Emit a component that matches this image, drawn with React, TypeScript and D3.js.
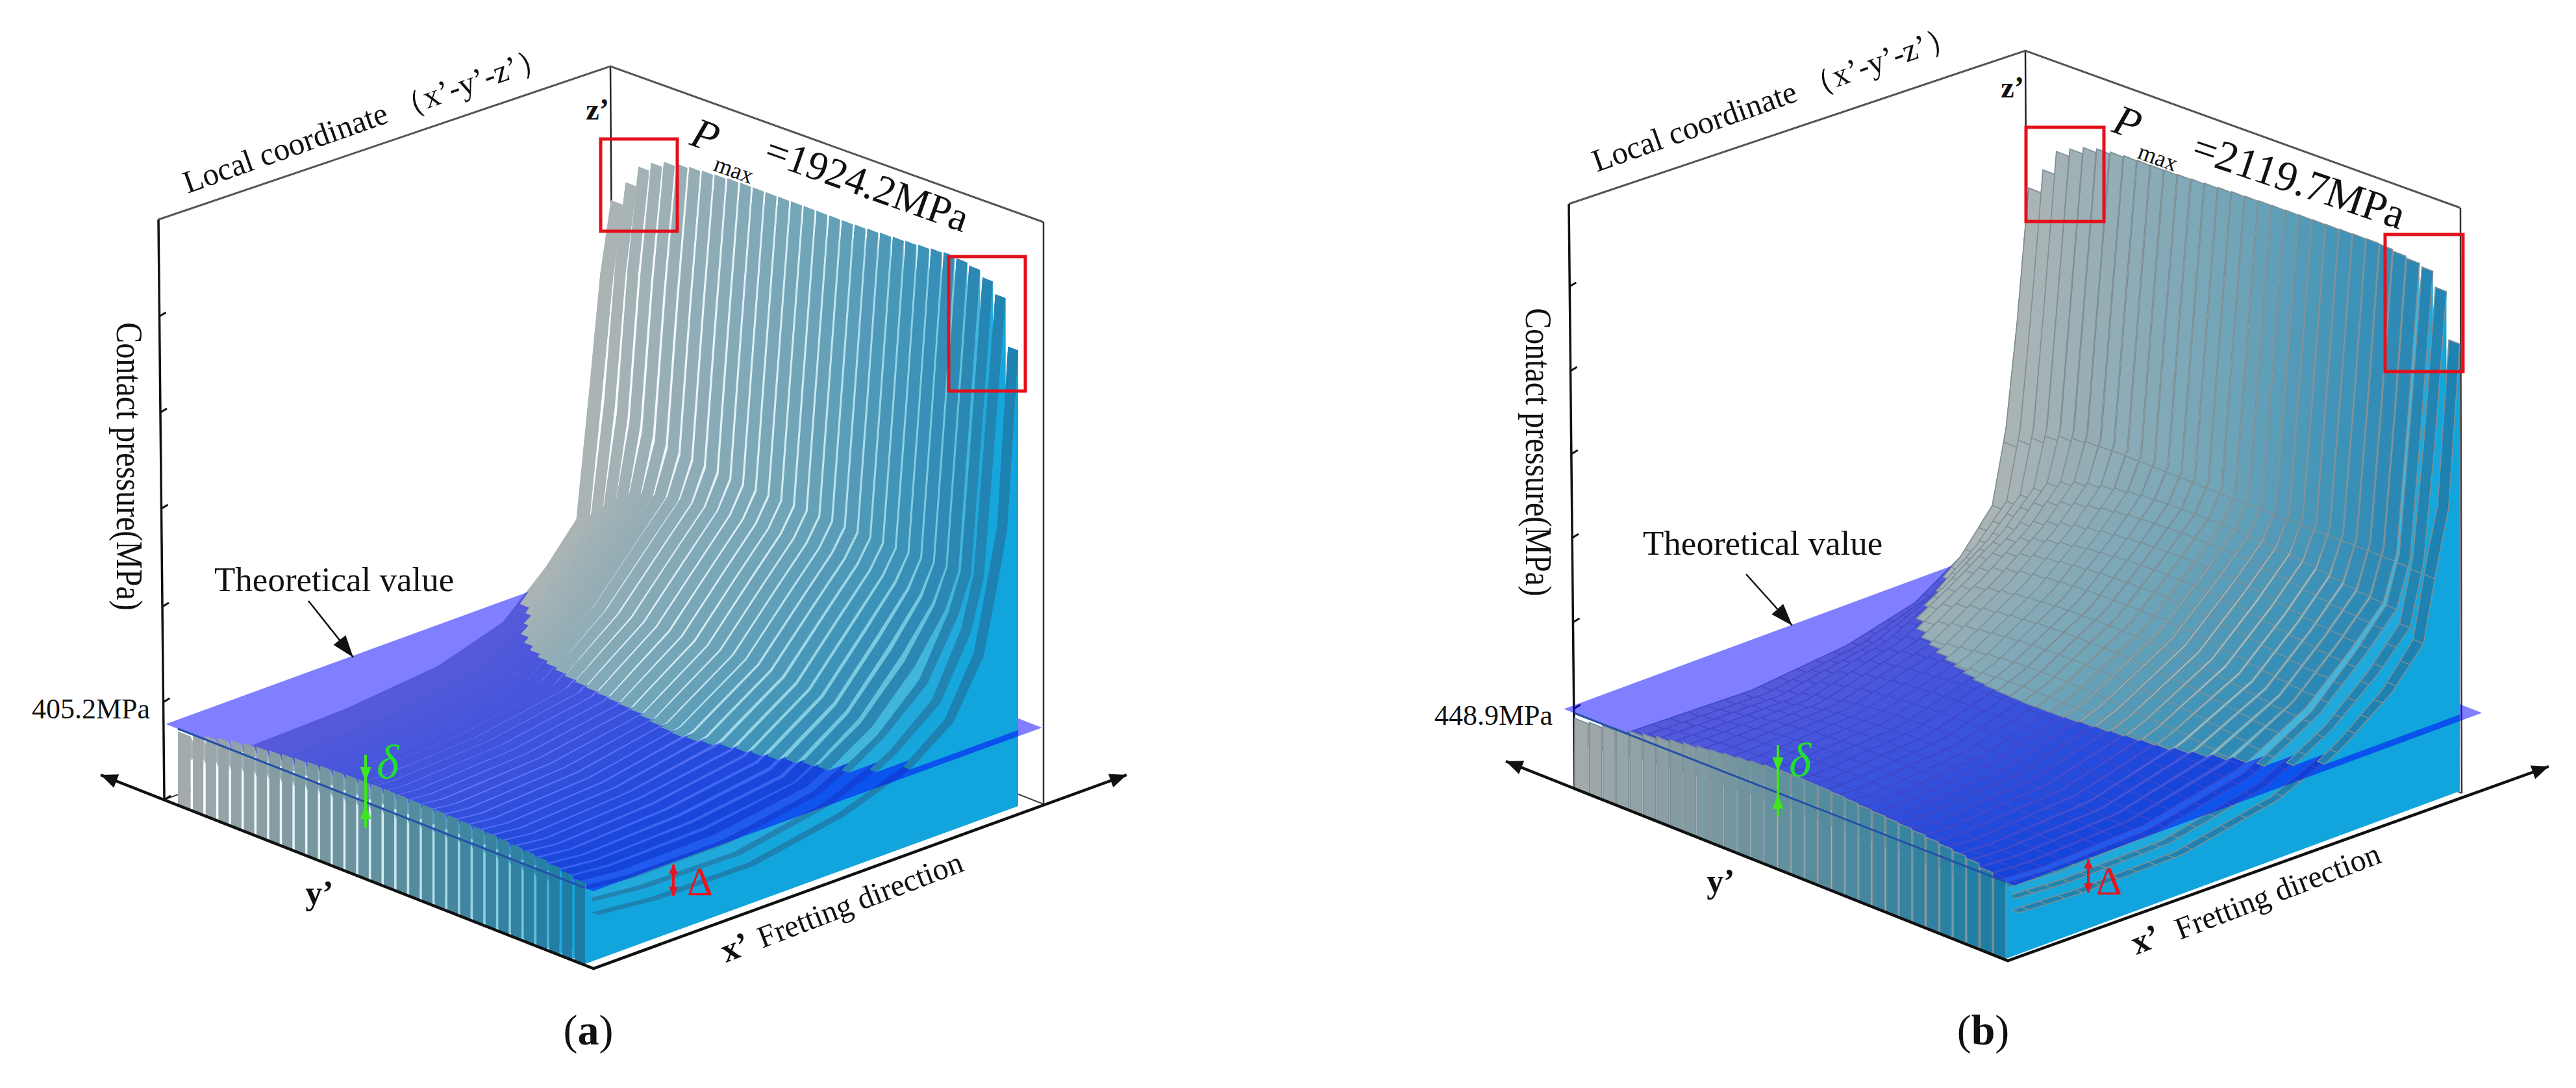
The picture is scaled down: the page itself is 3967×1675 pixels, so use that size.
import React from 'react';
import * as d3 from 'd3';

type Pt = [number, number];

const N_STRIPS = 32;
// stations along the fretting direction (0 = front wall, 1 = back edge)
const stations = [0, 0.03, 0.17, 0.39, 0.6, 0.75, 0.85, 0.92, 0.95, 0.975, 1];

// contact pressure in MPa, one row per strip
const pressureA = [
  [391, 215, 173, 187, 235, 343, 500, 623, 1049, 1423, 1660],
  [405, 225, 185, 200, 250, 375, 540, 660, 1020, 1460, 1740],
  [418, 235, 197, 214, 272, 420, 590, 705, 1000, 1480, 1810],
  [428, 245, 210, 228, 295, 462, 635, 750, 990, 1470, 1840],
  [437, 255, 222, 242, 315, 490, 660, 780, 975, 1460, 1860],
  [445, 265, 234, 256, 332, 512, 680, 800, 960, 1450, 1870],
  [449, 275, 245, 268, 345, 528, 695, 812, 950, 1440, 1876],
  [453, 283, 255, 278, 357, 538, 705, 820, 945, 1435, 1880],
  [457, 290, 263, 286, 368, 545, 712, 828, 940, 1430, 1884],
  [461, 297, 270, 294, 378, 548, 716, 832, 935, 1425, 1888],
  [465, 303, 275, 300, 385, 551, 720, 836, 930, 1420, 1890],
  [468, 308, 280, 306, 390, 553, 722, 840, 928, 1418, 1891],
  [470, 313, 284, 311, 394, 555, 724, 842, 926, 1416, 1892],
  [472, 318, 287, 315, 398, 555, 726, 843, 924, 1414, 1893],
  [473, 323, 289, 318, 402, 556, 727, 844, 923, 1412, 1894],
  [474, 330, 290, 320, 405, 556, 728, 845, 923, 1412, 1895],
  [474, 330, 291, 322, 408, 557, 728, 845, 922, 1410, 1896],
  [474, 330, 292, 323, 411, 558, 729, 846, 922, 1410, 1897],
  [473, 330, 292, 324, 413, 559, 729, 846, 921, 1408, 1898],
  [472, 330, 292, 324, 415, 560, 729, 846, 920, 1406, 1900],
  [471, 330, 292, 324, 413, 558, 728, 845, 918, 1404, 1903],
  [470, 330, 291, 323, 410, 555, 726, 843, 916, 1402, 1906],
  [468, 330, 290, 322, 404, 550, 722, 840, 915, 1400, 1909],
  [466, 328, 289, 320, 398, 545, 718, 838, 914, 1400, 1912],
  [463, 326, 287, 316, 392, 540, 712, 835, 914, 1402, 1916],
  [460, 322, 285, 310, 384, 532, 704, 830, 915, 1406, 1920],
  [456, 318, 283, 302, 372, 522, 692, 824, 916, 1410, 1924],
  [452, 312, 280, 295, 360, 512, 676, 815, 918, 1412, 1920],
  [447, 310, 275, 285, 360, 498, 652, 805, 920, 1410, 1912],
  [440, 300, 262, 262, 345, 480, 610, 800, 925, 1400, 1890],
  [432, 270, 235, 228, 320, 445, 560, 760, 930, 1380, 1850],
  [423, 235, 200, 195, 284, 405, 510, 697, 906, 1100, 1690],
];

const pressureB = [
  [418, 228, 217, 201, 258, 361, 503, 652, 923, 1319, 1810],
  [428, 240, 228, 215, 300, 430, 560, 690, 950, 1400, 1900],
  [440, 252, 240, 232, 340, 490, 610, 735, 975, 1470, 1990],
  [452, 262, 250, 250, 385, 540, 655, 780, 1000, 1510, 2020],
  [462, 272, 260, 268, 415, 570, 690, 820, 1015, 1530, 2045],
  [472, 280, 268, 284, 435, 590, 715, 845, 1025, 1545, 2060],
  [482, 288, 274, 298, 448, 605, 735, 865, 1030, 1555, 2068],
  [490, 294, 279, 310, 458, 615, 750, 880, 1030, 1560, 2074],
  [498, 300, 284, 320, 465, 622, 762, 892, 1030, 1562, 2076],
  [506, 305, 288, 327, 472, 628, 772, 902, 1028, 1564, 2078],
  [512, 310, 291, 333, 478, 632, 780, 910, 1026, 1565, 2080],
  [518, 314, 293, 337, 484, 635, 786, 915, 1025, 1566, 2083],
  [524, 317, 295, 340, 487, 637, 792, 918, 1024, 1566, 2086],
  [529, 320, 296, 341, 489, 638, 796, 920, 1023, 1566, 2090],
  [534, 322, 296, 342, 490, 639, 798, 922, 1022, 1566, 2094],
  [538, 323, 296, 342, 491, 639, 800, 923, 1022, 1566, 2098],
  [538, 323, 296, 342, 490, 639, 800, 923, 1022, 1565, 2101],
  [536, 323, 296, 342, 489, 638, 799, 922, 1022, 1564, 2104],
  [534, 323, 296, 341, 487, 636, 797, 921, 1022, 1563, 2106],
  [531, 322, 296, 340, 484, 633, 794, 919, 1022, 1562, 2108],
  [527, 321, 295, 338, 481, 628, 790, 916, 1023, 1560, 2110],
  [523, 320, 294, 336, 478, 622, 784, 912, 1024, 1558, 2112],
  [519, 318, 292, 333, 475, 616, 776, 906, 1026, 1556, 2114],
  [515, 316, 290, 330, 472, 608, 768, 900, 1028, 1554, 2116],
  [511, 314, 288, 326, 470, 600, 760, 892, 1030, 1552, 2118],
  [506, 310, 286, 320, 462, 592, 752, 884, 1032, 1550, 2120],
  [500, 306, 283, 314, 455, 585, 745, 876, 1034, 1548, 2118],
  [494, 305, 280, 308, 445, 578, 740, 870, 1035, 1546, 2112],
  [488, 303, 278, 304, 430, 575, 735, 865, 1036, 1544, 2105],
  [480, 300, 275, 295, 420, 570, 730, 860, 1035, 1540, 2095],
  [465, 275, 250, 262, 385, 535, 680, 810, 1040, 1480, 2038],
  [448, 240, 220, 228, 342, 498, 627, 770, 1047, 1245, 1858],
];

// transverse mesh lines that are visible in panel (b)
const meshB = [0.05, 0.09, 0.13, 0.17, 0.21, 0.25, 0.29, 0.33, 0.37, 0.41, 0.45, 0.49, 0.53, 0.57, 0.61, 0.65, 0.69, 0.73, 0.77, 0.8, 0.83, 0.86, 0.89, 0.92, 0.945];

const topColor = d3.scaleLinear<string>().domain([0, 0.25, 0.5, 0.75, 1]).range(['#adb4b4', '#8fadb7', '#6fa4b8', '#3f93b8', '#1b80b0']);
const wallColor = d3.scaleLinear<string>().domain([0, 0.25, 0.5, 0.75, 1]).range(['#a4abad', '#849ba2', '#5f8f9e', '#3a84a0', '#197ba6']);
const sideColor = d3.scaleLinear<string>().domain([0, 0.5, 0.85, 0.93, 1]).range(['#ffffff', '#cfeaf0', '#6cc4dc', '#18a6dc', '#10a5dd']);
// the last strips read as thin dark lines low down and widen towards the tips
const edgeStripWidth = d3.scaleLinear().domain([0.75, 0.95]).range([0.55, 0.8]).clamp(true);

const toPath = d3.line<Pt>();
const poly = (pts: Pt[]) => toPath(pts) + 'Z';
const serif = '"Liberation Serif", serif';

function head(tip: Pt, from: Pt, len: number, wid: number) {
  const a = Math.atan2(tip[1] - from[1], tip[0] - from[0]);
  const bx = tip[0] - len * Math.cos(a);
  const by = tip[1] - len * Math.sin(a);
  const dx = (wid / 2) * Math.sin(a);
  const dy = (wid / 2) * Math.cos(a);
  return poly([tip, [bx + dx, by - dy], [bx - dx, by + dy]]);
}

function Panel({ cfg, rows }: { cfg: any; rows: number[][] }) {
  const { s0, sU, sV, L, F, R, top, leftTop, rightTop, peak, planeMPa, planeH, peakH } = cfg;
  const zScale = d3.scaleLinear().domain([0, planeMPa, peak]).range([0, planeH, peakH]);
  const project = (t: number, v: number, mpa: number): Pt => [
    s0[0] + t * sU[0] + v * sV[0],
    s0[1] + t * sU[1] + v * sV[1] - zScale(mpa),
  ];
  const B: Pt = [L[0] + R[0] - F[0], L[1] + R[1] - F[1]];

  const planeCorners: Pt[] = [
    project(cfg.planeT[0], 0, planeMPa),
    project(cfg.planeT[1], 0, planeMPa),
    project(cfg.planeT[1], cfg.planeV, planeMPa),
    project(cfg.planeT[0], cfg.planeV, planeMPa),
  ];
  const axisX = d3.scaleLinear().domain([leftTop[1], L[1]]).range([leftTop[0], L[0]]);

  const under: React.ReactNode[] = [];
  const over: React.ReactNode[] = [];

  rows.forEach((row, i) => {
    const isEdge = i >= N_STRIPS - 3;
    const tR = (i + 1) / N_STRIPS;
    const tAt = (v: number) => {
      if (i === 0) return 0;
      const w = isEdge ? edgeStripWidth(v) : cfg.stripWidth;
      return (i + 1 - w) / N_STRIPS;
    };
    const tWall = i === 0 ? 0 : (i + 1 - cfg.wallWidth) / N_STRIPS;
    const frac = (i + 0.5) / N_STRIPS;
    const profile = d3.scaleLinear().domain(stations).range(row);

    const edgeR = (vs: number[]) => vs.map((v) => project(tR, v, profile(v)));
    const edgeL = (vs: number[]) => vs.map((v) => project(tAt(v), v, profile(v)));
    const sideCol = cfg.sideTint(frac);
    const fill = topColor(frac);
    const stroke = cfg.gridColor ?? 'none';
    const topVs = isEdge ? stations.slice(1) : stations;

    // whole strip, it ends up under the translucent plane
    under.push(
      <g key={i}>
        <path d={poly([...edgeR(stations), project(tR, 1, 0), project(tR, 0, 0)])} fill={sideCol} />
        <path d={poly([...edgeL(topVs), ...edgeR(topVs).reverse()])} fill={fill} stroke={stroke} strokeWidth={cfg.gridWidth} />
        {cfg.mesh && (
          <path
            d={cfg.mesh.map((v: number) => toPath([project(tAt(v), v, profile(v)), project(tR, v, profile(v))])).join('')}
            stroke={stroke}
            strokeWidth={cfg.gridWidth}
            fill="none"
          />
        )}
      </g>,
    );

    // runs of the strip that stand above the plane
    const vs: number[] = [];
    stations.forEach((v, k) => {
      if (k > 0) {
        const a = row[k - 1] - planeMPa;
        const b = row[k] - planeMPa;
        if (a * b < 0) vs.push(stations[k - 1] + ((v - stations[k - 1]) * a) / (a - b));
      }
      vs.push(v);
    });
    vs.sort(d3.ascending);
    const runs: number[][] = [];
    let cur: number[] = [];
    vs.forEach((v) => {
      if (profile(v) >= planeMPa - 0.5) cur.push(v);
      else if (cur.length) {
        runs.push(cur);
        cur = [];
      }
    });
    if (cur.length) runs.push(cur);

    over.push(
      <g key={i}>
        {runs.map((run, k) => (
          <g key={k}>
            <path d={poly([...edgeR(run), ...run.slice().reverse().map((v) => project(tR, v, planeMPa))])} fill={sideCol} />
            {!(isEdge && run[0] < 0.1) && (
              <path d={poly([...edgeL(run), ...edgeR(run).reverse()])} fill={fill} stroke={stroke} strokeWidth={cfg.gridWidth} />
            )}
            {cfg.mesh && (
              <path
                d={cfg.mesh
                  .filter((v: number) => v >= run[0] && v <= run[run.length - 1])
                  .map((v: number) => toPath([project(tAt(v), v, profile(v)), project(tR, v, profile(v))]))
                  .join('')}
                stroke={stroke}
                strokeWidth={cfg.gridWidth}
                fill="none"
              />
            )}
          </g>
        ))}
        {/* front end of the strip */}
        <path d={poly([project(tR, 0, 0), project(tR, 0, row[0]), project(tWall, 0, row[0]), project(tWall, 0, 0)])} fill={wallColor(frac)} stroke={stroke} strokeWidth={cfg.gridWidth} />
      </g>,
    );
  });

  const frame = '#555';
  const tl = cfg.textA;

  return (
    <g fontFamily={serif} fill="#111">
      {/* box behind the surface */}
      <path d={toPath([B, top])} stroke="#222" strokeWidth={2.5} fill="none" />
      <path d={toPath([L, B, R])} stroke="#444" strokeWidth={2} fill="none" />
      <path d={toPath([leftTop, top, rightTop])} stroke={frame} strokeWidth={3} fill="none" />
      <path d={toPath([rightTop, R])} stroke="#333" strokeWidth={2.5} fill="none" />
      <path d={toPath([leftTop, L])} stroke="#111" strokeWidth={3.5} fill="none" />
      {cfg.ticks.map((y: number) => (
        <path key={y} d={toPath([[axisX(y), y], [axisX(y) + 10, y - 6]])} stroke="#111" strokeWidth={3} fill="none" />
      ))}

      {under}
      <path d={poly(planeCorners)} fill="rgb(0,0,255)" fillOpacity={0.5} />
      {over}
      {/* trace of the plane on the front wall */}
      <path d={toPath([project(0, 0, planeMPa), project(1, 0, planeMPa)])} stroke="#2450a8" strokeWidth={3} fill="none" />

      {/* floor axes */}
      <path d={toPath([cfg.arrowL, F, cfg.arrowR])} stroke="#111" strokeWidth={4.5} fill="none" />
      <path d={head(cfg.arrowL, F, 26, 22)} fill="#111" />
      <path d={head(cfg.arrowR, F, 26, 22)} fill="#111" />

      {/* red boxes */}
      {cfg.boxes.map((b: number[], k: number) => (
        <rect key={k} x={b[0]} y={b[1]} width={b[2] - b[0]} height={b[3] - b[1]} fill="none" stroke="#e3101c" strokeWidth={5} />
      ))}

      {/* delta marks */}
      <path d={toPath([[cfg.gx, cfg.gy[0]], [cfg.gx, cfg.gy[3]]])} stroke="#3ee61e" strokeWidth={4} fill="none" />
      <path d={head([cfg.gx, cfg.gy[1]], [cfg.gx, cfg.gy[0]], 22, 17)} fill="#3ee61e" />
      <path d={head([cfg.gx, cfg.gy[2]], [cfg.gx, cfg.gy[3]], 22, 17)} fill="#3ee61e" />
      <path d={toPath([[cfg.rx, cfg.ry[0]], [cfg.rx, cfg.ry[1]]])} stroke="#e8141e" strokeWidth={4} fill="none" />
      <path d={head([cfg.rx, cfg.ry[0]], [cfg.rx, cfg.ry[1]], 14, 14)} fill="#e8141e" />
      <path d={head([cfg.rx, cfg.ry[1]], [cfg.rx, cfg.ry[0]], 14, 14)} fill="#e8141e" />
      <text x={tl.delta[0]} y={tl.delta[1]} fontSize={74} fontStyle="italic" fill="#22dd33">δ</text>
      <text x={tl.bigDelta[0]} y={tl.bigDelta[1]} fontSize={62} fill="#e8141e">Δ</text>

      {/* theoretical value callout */}
      <text x={tl.theory[0]} y={tl.theory[1]} fontSize={53}>Theoretical value</text>
      <path d={toPath([cfg.callout[0], cfg.callout[1]])} stroke="#111" strokeWidth={2.5} fill="none" />
      <path d={head(cfg.callout[1], cfg.callout[0], 34, 24)} fill="#111" />

      <text transform={`translate(${tl.local[0]},${tl.local[1]}) rotate(-19.5)`} fontSize={49}>{"Local coordinate （x’-y’-z’）"}</text>
      <text x={tl.z[0]} y={tl.z[1]} fontSize={46} fontWeight="bold" textAnchor="end">z’</text>
      <text transform={`translate(${tl.pmax[0]},${tl.pmax[1]}) rotate(20)`} fontSize={66} fontStyle="italic">P</text>
      <text transform={`translate(${tl.max[0]},${tl.max[1]}) rotate(20)`} fontSize={36}>max</text>
      <text transform={`translate(${tl.val[0]},${tl.val[1]}) rotate(${tl.valRot})`} fontSize={tl.valSize}>{cfg.pmaxLabel}</text>
      <text transform={`translate(${tl.axis[0]},${tl.axis[1]}) rotate(90) scale(1,1.2)`} fontSize={48} textAnchor="middle">Contact pressure(MPa)</text>
      <text x={tl.plane[0]} y={tl.plane[1]} fontSize={44} textAnchor="end">{cfg.planeLabel}</text>
      <text x={tl.yp[0]} y={tl.yp[1]} fontSize={52} fontWeight="bold" textAnchor="middle">y’</text>
      <text transform={`translate(${tl.xp[0]},${tl.xp[1]}) rotate(-21)`} fontSize={52} fontWeight="bold">x’</text>
      <text transform={`translate(${tl.fret[0]},${tl.fret[1]}) rotate(-21)`} fontSize={48}>Fretting direction</text>
      <text x={tl.cap[0]} y={tl.cap[1]} fontSize={66} textAnchor="middle">
        (<tspan fontWeight="bold">{cfg.cap}</tspan>)
      </text>
    </g>
  );
}

const cfgA = {
  cap: 'a', peak: 1924.2, planeMPa: 405.2, planeH: 117, peakH: 808,
  pmaxLabel: '=1924.2MPa', planeLabel: '405.2MPa',
  s0: [274, 1239], sU: [627, 245], sV: [667, -243],
  L: [253, 1231], F: [914, 1491], R: [1607, 1238],
  top: [940, 102], leftTop: [244, 338], rightTop: [1607, 342],
  planeT: [-0.03, 1.02], planeV: 1.036,
  arrowL: [155, 1193], arrowR: [1735, 1193],
  ticks: [487, 635, 783, 934, 1081, 1231],
  boxes: [[925, 214, 1043, 356], [1461, 395, 1579, 602]],
  gx: 563, gy: [1162, 1203, 1239, 1274], rx: 1037, ry: [1331, 1379],
  callout: [[475, 925], [544, 1012]],
  stripWidth: 0.85, wallWidth: 0.82, sideTint: sideColor, gridColor: null, gridWidth: 0, mesh: null,
  textA: {
    delta: [580, 1198], bigDelta: [1058, 1378], theory: [330, 910], local: [289, 298], z: [938, 184],
    pmax: [1060, 222], max: [1097, 262], val: [1174, 248], valRot: 19.6, valSize: 63, axis: [180, 718], plane: [231, 1106],
    yp: [492, 1392], xp: [1118, 1482], fret: [1174, 1460], cap: [906, 1608],
  },
};

const cfgB = {
  cap: 'b', peak: 2119.7, planeMPa: 448.9, planeH: 118, peakH: 794,
  pmaxLabel: '=2119.7MPa', planeLabel: '448.9MPa',
  s0: [2425, 1216], sU: [664, 260], sV: [699, -258],
  L: [2425, 1216], F: [3092, 1479], R: [3791, 1221],
  top: [3119, 78], leftTop: [2416, 314], rightTop: [3789, 320],
  planeT: [-0.025, 1.02], planeV: 1.03,
  arrowL: [2319, 1172], arrowR: [3925, 1180],
  ticks: [441, 571, 699, 828, 958, 1091, 1216],
  boxes: [[3120, 196, 3240, 341], [3673, 361, 3793, 572]],
  gx: 2738, gy: [1147, 1188, 1223, 1257], rx: 3216, ry: [1323, 1374],
  callout: [[2689, 884], [2760, 963]],
  stripWidth: 0.93, wallWidth: 0.9,
  sideTint: d3.scaleLinear<string>().domain([0, 0.5, 0.85, 0.93, 1]).range(['#dfe6e8', '#c4dfe6', '#6cc4dc', '#18a6dc', '#10a5dd']),
  gridColor: '#7d8f96', gridWidth: 1.6, mesh: meshB,
  textA: {
    delta: [2755, 1195], bigDelta: [3228, 1377], theory: [2530, 854], local: [2459, 265], z: [3117, 150],
    pmax: [3250, 202], max: [3290, 243], val: [3372, 245], valRot: 18.5, valSize: 66, axis: [2350, 696], plane: [2391, 1116],
    yp: [2650, 1374], xp: [3290, 1470], fret: [3357, 1447], cap: [3054, 1608],
  },
};

export default function App() {
  return (
    <svg width={3967} height={1675} style={{ position: 'absolute', left: 0, top: 0, background: '#fff' }}>
      <Panel cfg={cfgA} rows={pressureA} />
      <Panel cfg={cfgB} rows={pressureB} />
    </svg>
  );
}
